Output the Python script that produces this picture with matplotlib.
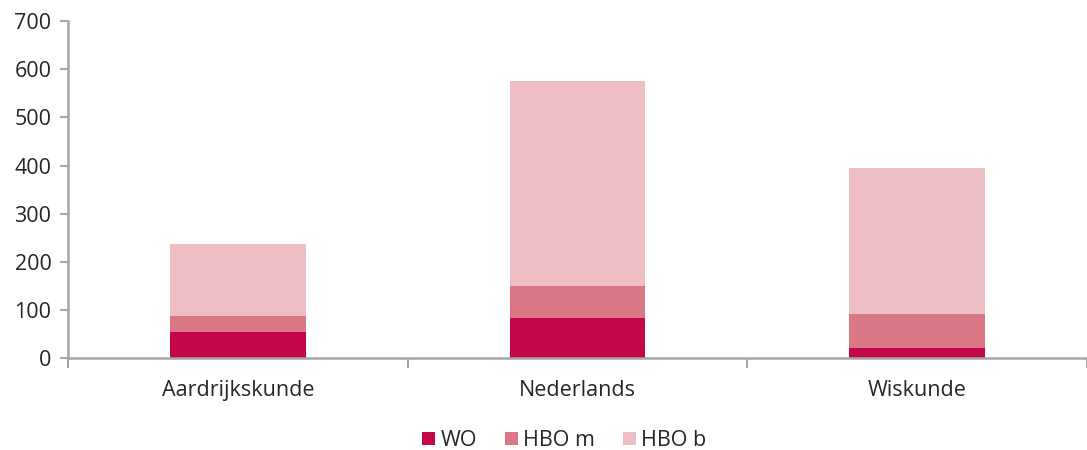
import numpy as np
import matplotlib.pyplot as plt

plt.rcParams['font.family'] = ['Open Sans', 'DejaVu Sans']

# --- data ---
categories = ['Aardrijkskunde', 'Nederlands', 'Wiskunde']
wo    = [54, 83, 21]
hbo_m = [33, 67, 70]
hbo_b = [150, 425, 304]

series = [('WO', wo, '#C4064A'), ('HBO m', hbo_m, '#DA7785'), ('HBO b', hbo_b, '#EDBFC5')]

# --- plot ---
fig = plt.figure(figsize=(10.87, 4.5), dpi=100)
ax = fig.add_axes([0.0626, 0.2044, 0.9374, 0.7486])

x = np.arange(len(categories))
bottom = np.zeros(len(categories))
for label, vals, color in series:
    ax.bar(x, vals, 0.4, bottom=bottom, color=color, label=label)
    bottom += np.array(vals)

ax.set_xlim(-0.5, len(categories) - 0.5)
ax.set_ylim(0, 700)
ax.set_yticks(range(0, 701, 100))

# category labels centred, ticks at boundaries
ax.set_xticks(np.arange(-0.5, len(categories)), minor=False)
ax.set_xticklabels([])
ax.set_xticks(x, minor=True)
ax.set_xticklabels(categories, minor=True)
ax.tick_params(axis='x', which='major', length=7, width=1.5, color='#A6A6A6', direction='out')
ax.tick_params(axis='x', which='minor', length=0, pad=16, labelsize=15.5, labelcolor='#262626')
ax.tick_params(axis='y', length=6, width=1.5, color='#A6A6A6', labelsize=15.5, labelcolor='#262626', pad=6)

for s in ['top', 'right']:
    ax.spines[s].set_visible(False)
for s in ['left', 'bottom']:
    ax.spines[s].set_color('#A6A6A6')
    ax.spines[s].set_linewidth(1.8)

fig.legend(loc='center', bbox_to_anchor=(0.519, 0.02), ncol=3, frameon=False,
           fontsize=15.5, handlelength=0.6, handleheight=0.55, handletextpad=0.25,
           columnspacing=1.3, labelcolor='#262626')

plt.savefig('out.png', dpi=100)
